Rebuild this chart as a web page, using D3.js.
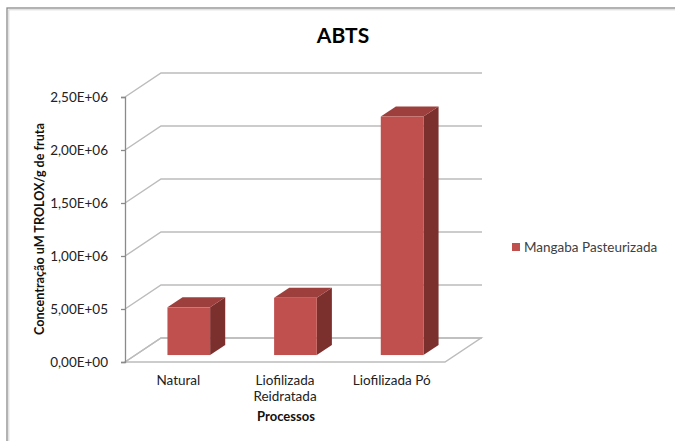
<!DOCTYPE html>
<html>
<head>
<meta charset="utf-8">
<script src="https://cdn.jsdelivr.net/npm/d3@7"></script>
<style>
    body { margin: 0; background: #fff; }
    text { font-family: Lato, "Open Sans", sans-serif; }
</style>
</head>
<body>
<div class="container"></div>
<script>
// chart data
const categories = ['Natural', 'Liofilizada Reidratada', 'Liofilizada Pó'];
const categoryLines = [['Natural'], ['Liofilizada', 'Reidratada'], ['Liofilizada Pó']];
const values = [450000, 540000, 2250000];
const yTicks = [0, 500000, 1000000, 1500000, 2000000, 2500000];
const seriesName = 'Mangaba Pasteurizada';

const width = 675;
const height = 441;

// 3d offset of the floor (front to back wall)
const depthX = 36;
const depthY = -24;
const barFront = 0.29;
const barBack = 0.71;

const svg = d3.select('.container').append('svg').attr('width', width).attr('height', height);

// frame
svg.append('rect').attr('x', 7).attr('y', 8).attr('width', 700).attr('height', 500)
    .attr('fill', 'none').attr('stroke', '#8a8a8a').attr('stroke-width', 1.3);
svg.append('rect').attr('x', 8.8).attr('y', 9.8).attr('width', 700).attr('height', 500)
    .attr('fill', 'none').attr('stroke', '#d6d6d6').attr('stroke-width', 1);

const x = d3.scaleBand().domain(categories).range([125, 445]).paddingInner(0).paddingOuter(0);
const y = d3.scaleLinear().domain([0, 2500000]).range([362, 97]);

function fmt(v)
{
    let exp = v === 0 ? 0 : Math.floor(Math.log10(v));
    let mant = v / Math.pow(10, exp);
    return mant.toFixed(2).replace('.', ',') + 'E+' + String(exp).padStart(2, '0');
}

const grid = svg.append('g');

// floor
const x0 = x.range()[0], x1 = x.range()[1], y0 = y(0);
grid.append('path')
    .attr('d', `M${x0},${y0} L${x0 + depthX},${y0 + depthY} L${x1 + depthX},${y0 + depthY} L${x1},${y0} Z`)
    .attr('fill', 'none').attr('stroke', '#bcbcbc').attr('stroke-width', 1.5);

// back wall gridlines + side diagonals
yTicks.forEach(t => {
    const yy = y(t);
    grid.append('path')
        .attr('d', `M${x0},${yy} L${x0 + depthX},${yy + depthY} L${x1 + depthX + 1},${yy + depthY}`)
        .attr('fill', 'none').attr('stroke', '#bcbcbc').attr('stroke-width', 1.5);
});

// y axis
const yAxis = svg.append('g').attr('transform', `translate(${x0},0)`)
    .call(d3.axisLeft(y).tickValues(yTicks).tickFormat(fmt).tickSize(4).tickPadding(13));
yAxis.select('.domain').attr('stroke', '#8a8a8a').attr('stroke-width', 1.3);
yAxis.selectAll('.tick line').attr('stroke', '#8a8a8a').attr('stroke-width', 1.3);
yAxis.selectAll('.tick text').attr('font-size', 13.5).attr('fill', '#222')
    .style('font-family', 'Lato, sans-serif');

// bars
const bw = x.bandwidth() * 0.4;
const bars = svg.append('g');
categories.forEach((c, i) => {
    const cx = x(c) + x.bandwidth() / 2;
    const fx = cx - bw / 2 + depthX * barFront;
    const fb = y(0) + depthY * barFront;
    const ft = y(values[i]) + depthY * barFront;
    const ox = depthX * (barBack - barFront);
    const oy = depthY * (barBack - barFront);

    // side
    bars.append('path')
        .attr('d', `M${fx + bw},${fb} L${fx + bw + ox},${fb + oy} L${fx + bw + ox},${ft + oy} L${fx + bw},${ft} Z`)
        .attr('fill', '#7b302e');
    // top
    bars.append('path')
        .attr('d', `M${fx},${ft} L${fx + ox},${ft + oy} L${fx + bw + ox},${ft + oy} L${fx + bw},${ft} Z`)
        .attr('fill', '#9d3f3c');
    // front
    bars.append('rect')
        .attr('x', fx).attr('y', ft).attr('width', bw).attr('height', fb - ft)
        .attr('fill', '#c0504d');
});

// category labels
categories.forEach((c, i) => {
    const t = svg.append('text')
        .attr('x', x(c) + x.bandwidth() / 2)
        .attr('y', 385)
        .attr('text-anchor', 'middle')
        .attr('font-size', 13.5)
        .attr('fill', '#222');
    categoryLines[i].forEach((line, j) => {
        t.append('tspan').attr('x', x(c) + x.bandwidth() / 2).attr('dy', j === 0 ? 0 : 16).text(line);
    });
});

// axis titles
svg.append('text').attr('x', 286).attr('y', 421).attr('text-anchor', 'middle')
    .attr('font-size', 13).attr('font-weight', 'bold').attr('fill', '#111').text('Processos');

svg.append('text').attr('transform', 'translate(44,229) rotate(-90)').attr('text-anchor', 'middle')
    .attr('font-size', 12.6).attr('font-weight', 'bold').attr('fill', '#111')
    .text('Concentração uM TROLOX/g de fruta');

// title
svg.append('text').attr('x', 343).attr('y', 43).attr('text-anchor', 'middle')
    .attr('font-size', 21).attr('font-weight', 'bold').attr('fill', '#000').text('ABTS');

// legend
svg.append('rect').attr('x', 512).attr('y', 243).attr('width', 8).attr('height', 8).attr('fill', '#c0504d');
svg.append('text').attr('x', 524).attr('y', 252).attr('font-size', 13.5).attr('fill', '#404040').text(seriesName);
</script>
</body>
</html>
